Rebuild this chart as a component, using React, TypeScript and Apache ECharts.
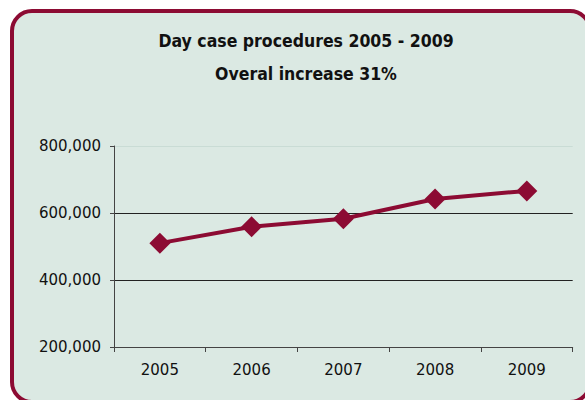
import React, { useEffect, useRef } from "react";
import * as echarts from "echarts";

const titleLines = ["Day case procedures 2005 - 2009", "Overal increase 31%"];
const categories = ["2005", "2006", "2007", "2008", "2009"];
const procedures = [510000, 559000, 583000, 642000, 666000];
const yMin = 200000;
const yMax = 800000;
const yStep = 200000;

const MAROON = "#8C0B33";
const BG = "#DBE9E3";

export default function App() {
  const ref = useRef<HTMLDivElement>(null);
  useEffect(() => {
    if (!ref.current) return;
    const chart = echarts.init(ref.current, undefined, { renderer: "svg" });
    chart.setOption({
      animation: false,
      backgroundColor: "#ffffff",
      graphic: [
        {
          type: "rect",
          z: -10,
          silent: true,
          shape: { x: 12, y: 11, width: 578, height: 391, r: 20 },
          style: { fill: BG, stroke: MAROON, lineWidth: 4 },
        },
      ],
      title: {
        text: titleLines.join("\n"),
        left: 301,
        textAlign: "center",
        top: 19,
        textStyle: {
          fontFamily: "DejaVu Sans Condensed",
          fontWeight: "bold",
          fontSize: 17.5,
          lineHeight: 33,
          color: "#111",
        },
      },
      grid: { left: 114, top: 146, right: 12.3, bottom: 53 },
      xAxis: {
        type: "category",
        data: categories,
        boundaryGap: true,
        axisLine: { lineStyle: { color: "#444", width: 1 } },
        axisTick: { show: true, length: 5, inside: false, lineStyle: { color: "#444" } },
        axisLabel: {
          margin: 15,
          fontFamily: "DejaVu Sans",
          fontSize: 15,
          color: "#111",
        },
        splitLine: { show: false },
      },
      yAxis: {
        type: "value",
        min: yMin,
        max: yMax,
        interval: yStep,
        axisLine: { show: true, lineStyle: { color: "#444", width: 1 } },
        axisTick: { show: true, length: 4, lineStyle: { color: "#444" } },
        axisLabel: {
          margin: 13,
          fontFamily: "DejaVu Sans",
          fontSize: 15,
          color: "#111",
          formatter: (v: number) => v.toLocaleString("en-US"),
        },
        splitLine: {
          show: true,
          lineStyle: { color: ["#444", "#222", "#222", "#C9DCD5"], width: 1 },
        },
      },
      series: [
        {
          type: "line",
          data: procedures,
          symbol: "diamond",
          symbolSize: 21,
          lineStyle: { color: MAROON, width: 4 },
          itemStyle: { color: MAROON },
        },
      ],
    });
    return () => chart.dispose();
  }, []);
  return (
    <div
      ref={ref}
      style={{ position: "fixed", left: 0, top: 0, width: 585, height: 400 }}
    />
  );
}
